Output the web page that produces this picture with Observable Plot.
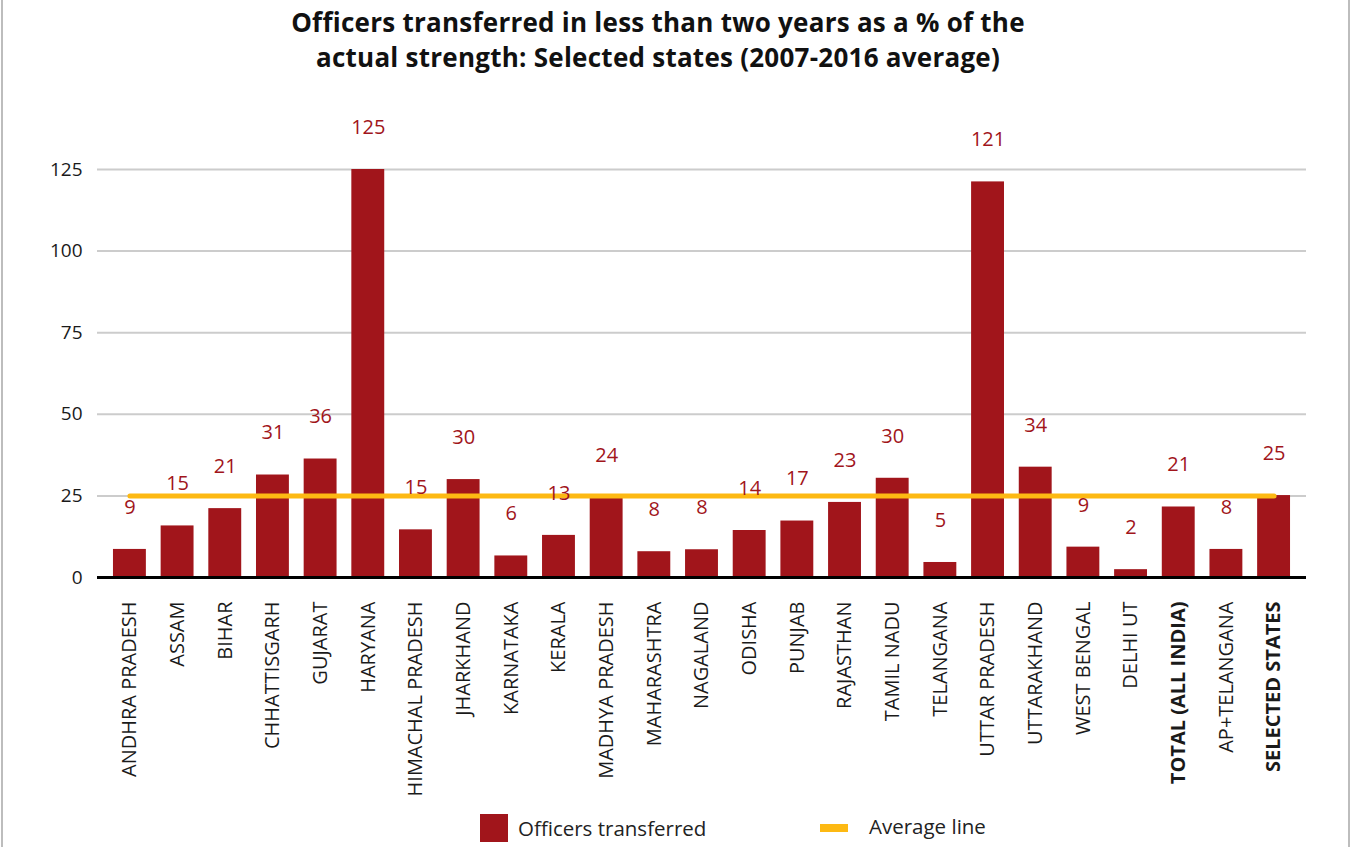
<!DOCTYPE html>
<html>
<head>
<meta charset="utf-8">
<script src="https://cdn.jsdelivr.net/npm/d3@7"></script>
<script src="https://cdn.jsdelivr.net/npm/@observablehq/plot@0.6"></script>
<style>
  html, body { margin: 0; padding: 0; background: #fff; }
  body { width: 1352px; height: 847px; position: relative; overflow: hidden; font-family: "Open Sans", Roboto, sans-serif; }
  #title { position: absolute; left: 0; top: 5px; width: 1316px; text-align: center; font-weight: 700; font-size: 26px; line-height: 35px; color: #111; letter-spacing: 0.25px; }
  #chart { position: absolute; left: 0; top: 90px; }
  .vline { position: absolute; top: 0; width: 2px; height: 847px; background: #bdbdbd; z-index: 5; }
  .leg { position: absolute; font-size: 20.5px; color: #222; }
</style>
</head>
<body>
<div id="title">Officers transferred in less than two years as a % of the<br>actual strength: Selected states (2007-2016 average)</div>
<div id="chart"></div>
<div style="position:absolute;left:480px;top:814px;width:28px;height:28px;background:#A1151B"></div>
<div class="leg" style="left:518px;top:814px">Officers transferred</div>
<div style="position:absolute;left:820px;top:824px;width:28px;height:8px;background:#FDB913"></div>
<div class="leg" style="left:869px;top:812px">Average line</div>
<div class="vline" style="left:1px"></div>
<div class="vline" style="left:1348px"></div>
<script>
const states = ["ANDHRA PRADESH","ASSAM","BIHAR","CHHATTISGARH","GUJARAT","HARYANA","HIMACHAL PRADESH","JHARKHAND","KARNATAKA","KERALA","MADHYA PRADESH","MAHARASHTRA","NAGALAND","ODISHA","PUNJAB","RAJASTHAN","TAMIL NADU","TELANGANA","UTTAR PRADESH","UTTARAKHAND","WEST BENGAL","DELHI UT","TOTAL (ALL INDIA)","AP+TELANGANA","SELECTED STATES"];
const values = [8.6,15.8,21.1,31.4,36.3,125,14.6,30.0,6.6,12.9,24.5,7.9,8.5,14.4,17.3,23.0,30.4,4.6,121.2,33.8,9.3,2.4,21.6,8.6,25.1];
const labels = ["9","15","21","31","36","125","15","30","6","13","24","8","8","14","17","23","30","5","121","34","9","2","21","8","25"];
const boldStates = ["TOTAL (ALL INDIA)","SELECTED STATES"];
const averageLine = 25;
const yTicks = [0,25,50,75,100,125];

const data = states.map((s,i) => ({state: s, value: values[i], label: labels[i]}));

const plot = Plot.plot({
  width: 1352,
  height: 715,
  marginLeft: 97,
  marginRight: 46,
  marginTop: 79,
  marginBottom: 228,
  style: {fontFamily: "'Open Sans', Roboto, sans-serif", background: "#fff", color: "#1a1a1a"},
  x: {domain: states, paddingInner: 0.31, paddingOuter: 0.335, round: false, label: null},
  y: {domain: [0,125], label: null},
  marks: [
    Plot.gridY(yTicks.slice(1), {stroke: "#cccccc", strokeOpacity: 1, strokeWidth: 2}),
    Plot.barY(data, {x: "state", y: "value", fill: "#A1151B"}),
    Plot.ruleY([0], {stroke: "#000", strokeWidth: 3}),
    Plot.lineY(states, {x: d => d, y: () => averageLine, stroke: "#FDB913", strokeWidth: 5}),
    Plot.text(data, {x: "state", y: "value", text: "label", dy: -42, fill: "#A1151B", fontSize: 20}),
    Plot.axisY({ticks: yTicks, tickSize: 0, tickPadding: 15, fontSize: 19, label: null}),
    Plot.axisX({tickRotate: -90, tickSize: 0, tickPadding: 24, fontSize: 20, label: null})
  ]
});
document.getElementById("chart").appendChild(plot);
d3.select(plot).selectAll("g[aria-label='x-axis tick label'] text")
  .filter(function() { return boldStates.includes(this.textContent); })
  .attr("font-weight", "bold");
</script>
</body>
</html>
